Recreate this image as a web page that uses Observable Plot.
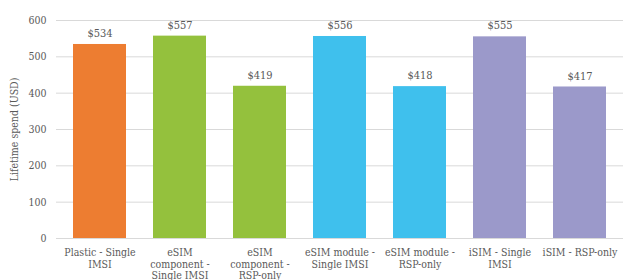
<!DOCTYPE html>
<html><head><meta charset="utf-8">
<script src="https://cdn.jsdelivr.net/npm/d3@7"></script>
<script src="https://cdn.jsdelivr.net/npm/@observablehq/plot@0.6"></script>
<style>body{margin:0;background:#fff}</style>
</head><body><div id="chart"></div>
<script>
const categories = ["Plastic - Single IMSI","eSIM component - Single IMSI","eSIM component - RSP-only","eSIM module - Single IMSI","eSIM module - RSP-only","iSIM - Single IMSI","iSIM - RSP-only"];
const tickLabels = ["Plastic - Single\nIMSI","eSIM\ncomponent -\nSingle IMSI","eSIM\ncomponent -\nRSP-only","eSIM module -\nSingle IMSI","eSIM module -\nRSP-only","iSIM - Single\nIMSI","iSIM - RSP-only"];
const values = [534,557,419,556,418,555,417];
const colors = ["#ED7D31","#94C13D","#94C13D","#3FC0ED","#3FC0ED","#9B99CA","#9B99CA"];
const yTicks = [0,100,200,300,400,500,600];
const data = categories.map((c,i)=>({cat:c,value:values[i],color:colors[i],label:"$"+values[i]}));
const font = "'DejaVu Serif Condensed', 'DejaVu Serif', serif";
const chart = Plot.plot({
  width:623, height:280,
  marginLeft:56, marginRight:0, marginTop:20, marginBottom:42,
  style:{fontFamily:font, fontSize:"10.5px", color:"#595959", background:"#fff", fontStretch:"condensed"},
  x:{domain:categories, paddingInner:0.333, paddingOuter:0.1667, label:null},
  y:{domain:[0,600], label:"Lifetime spend (USD)"},
  color:{type:"identity"},
  marks:[
    Plot.ruleY(yTicks,{stroke:"#d9d9d9", strokeWidth:1}),
    Plot.barY(data,{x:"cat", y:"value", fill:"color"}),
    Plot.text(data,{x:"cat", y:"value", text:"label", dy:-11, fill:"#595959", fontSize:11}),
    Plot.axisX({tickSize:0, tickPadding:9, lineHeight:1.12, label:null, fill:"#595959",
      tickFormat:(d)=>tickLabels[categories.indexOf(d)]}),
    Plot.axisY({ticks:yTicks, tickSize:0, tickPadding:10, label:"Lifetime spend (USD)", labelAnchor:"center", labelArrow:"none", labelOffset:46, fill:"#595959"})
  ]
});
document.getElementById("chart").appendChild(chart);
</script></body></html>
